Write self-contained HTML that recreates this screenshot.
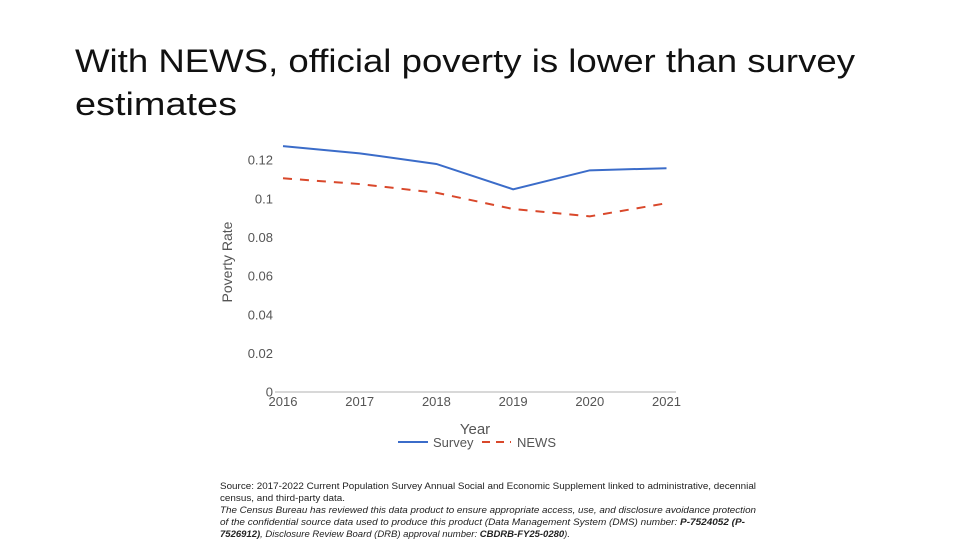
<!DOCTYPE html>
<html><head><meta charset="utf-8"><style>
body{margin:0;background:#fff;width:974px;height:548px;overflow:hidden;font-family:"Liberation Sans",sans-serif}
</style></head><body>
<svg width="974" height="548">
<text x="75" y="72" font-size="32" fill="#111" textLength="780" lengthAdjust="spacingAndGlyphs">With NEWS, official poverty is lower than survey</text>
<text x="75" y="115" font-size="32" fill="#111" textLength="162" lengthAdjust="spacingAndGlyphs">estimates</text>
<g id="chart"></g>
<g font-size="9" fill="#222">
<text x="220" y="489" textLength="536" lengthAdjust="spacingAndGlyphs">Source: 2017-2022 Current Population Survey Annual Social and Economic Supplement linked to administrative, decennial</text>
<text x="220" y="501" textLength="125" lengthAdjust="spacingAndGlyphs">census, and third-party data.</text>
<text x="220" y="513" font-style="italic" textLength="536" lengthAdjust="spacingAndGlyphs">The Census Bureau has reviewed this data product to ensure appropriate access, use, and disclosure avoidance protection</text>
<text x="220" y="525" font-style="italic" textLength="525" lengthAdjust="spacingAndGlyphs">of the confidential source data used to produce this product (Data Management System (DMS) number:  <tspan font-weight="bold">P-7524052 (P-</tspan></text>
<text x="220" y="537" font-style="italic" textLength="350" lengthAdjust="spacingAndGlyphs"><tspan font-weight="bold">7526912)</tspan>, Disclosure Review Board (DRB) approval number: <tspan font-weight="bold">CBDRB-FY25-0280</tspan>).</text>
</g>
</svg>
<script>
const years=[2016,2017,2018,2019,2020,2021];
const survey=[0.127,0.1233,0.1178,0.1047,0.1145,0.1156];
const news=[0.1104,0.1074,0.1029,0.0945,0.0907,0.0975];
const yTicks=[0,0.02,0.04,0.06,0.08,0.1,0.12];
const yTickLabels=["0","0.02","0.04","0.06","0.08","0.1","0.12"];
const NS="http://www.w3.org/2000/svg";
const g=document.getElementById('chart');
const x=v=>283+(v-2016)*76.7;
const y=v=>391.7-v*1933.3;
function mk(t,a,txt){const e=document.createElementNS(NS,t);for(const k in a)e.setAttribute(k,a[k]);if(txt!==undefined)e.textContent=txt;g.appendChild(e);return e;}
let ax=mk('line',{x1:275,x2:676,y1:392,y2:392,stroke:'#ccc','stroke-width':1.5});


yTicks.forEach((v,i)=>{const t=mk('text',{x:273,y:y(v)+5,'text-anchor':'end','font-size':13,fill:'#555'},yTickLabels[i]);

});
years.forEach(v=>{const t=mk('text',{x:x(v),y:406,'text-anchor':'middle','font-size':13,fill:'#555'},String(v));

});
let yt=mk('text',{x:232,y:262,'text-anchor':'middle','font-size':14,fill:'#555',transform:'rotate(-90 232 262)'},'Poverty Rate');


let xt=mk('text',{x:475,y:434,'text-anchor':'middle','font-size':15,fill:'#555'},'Year');


const pts=a=>a.map((v,i)=>x(years[i])+','+y(v)).join(' ');
let s=mk('polyline',{points:pts(survey),fill:'none',stroke:'#3b6cc9','stroke-width':2});


let n=mk('polyline',{points:pts(news),fill:'none',stroke:'#d9482b','stroke-width':2,'stroke-dasharray':'9,8'});


let l1=mk('line',{x1:398,x2:428,y1:442,y2:442,stroke:'#3b6cc9','stroke-width':2});


let lt1=mk('text',{x:433,y:447,'font-size':13,fill:'#555'},'Survey');


let l2=mk('line',{x1:482,x2:511,y1:442,y2:442,stroke:'#d9482b','stroke-width':2,'stroke-dasharray':'8,6'});


let lt2=mk('text',{x:517,y:447,'font-size':13,fill:'#555'},'NEWS');


</script>
</body></html>
